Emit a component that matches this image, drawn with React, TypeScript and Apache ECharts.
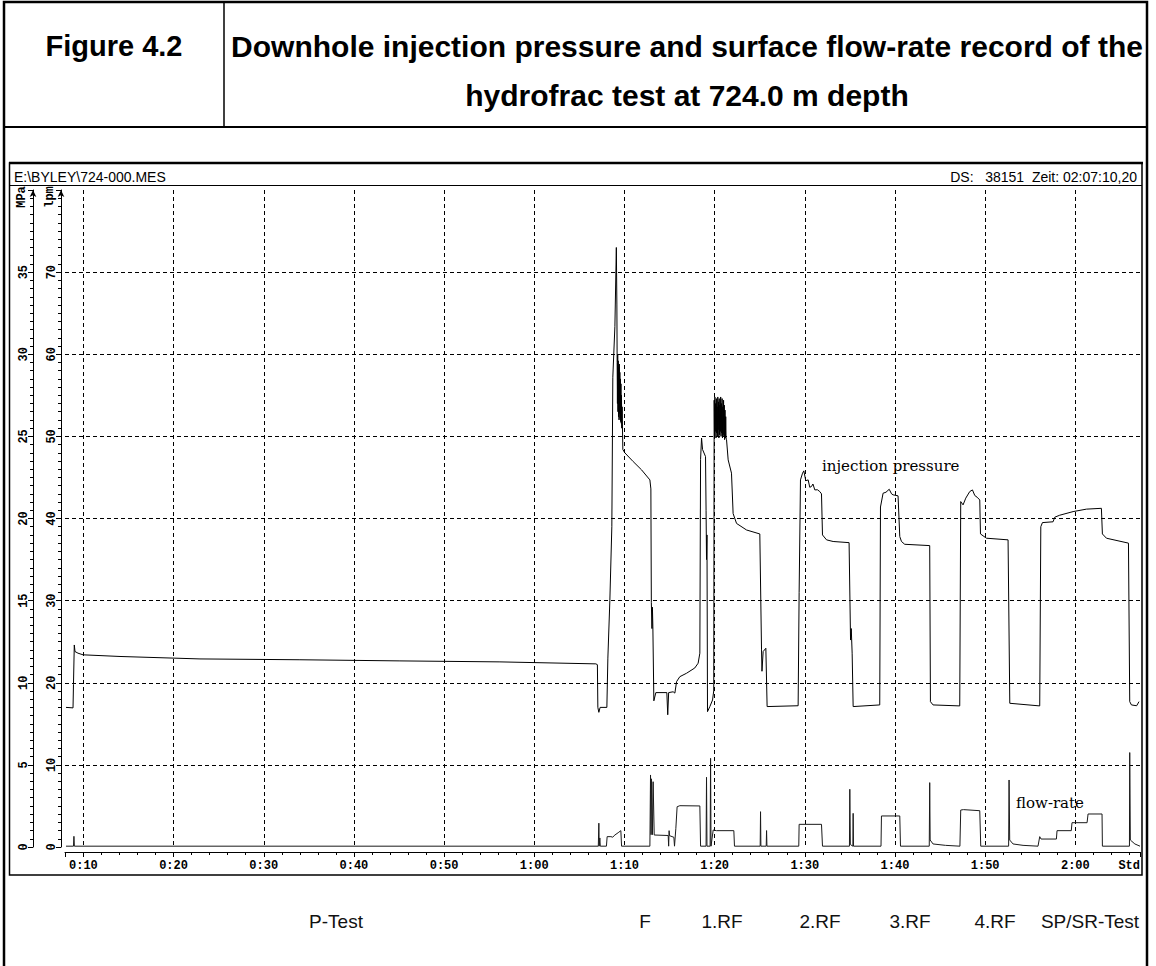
import { useEffect, useRef } from 'react';
import * as echarts from 'echarts';

const W = 1156;
const H = 966;

// Record window in minutes (end of record: Zeit 02:07:10)
const X_MIN = 7.96;
const X_MAX = 127.17;

// Downhole injection pressure [MPa] against time [min]
const pressureMin = [
  8.07, 8.85, 8.9, 8.99, 9.07, 9.4, 9.96, 14.06, 22.93, 34.01, 45.1, 56.19, 66.83, 67.0,
  67.05, 67.16, 67.3, 68.05, 68.16, 68.38, 68.6, 68.71, 68.94, 69.1,
  69.16, 69.19, 69.22, 69.25, 69.28, 69.31, 69.34, 69.37, 69.4, 69.43, 69.46, 69.49, 69.52,
  69.55, 69.58, 69.61, 69.64, 69.67, 69.7, 69.74,
  69.82, 70.04, 70.96, 71.9, 72.82, 72.93, 72.98, 73.05,
  73.1, 73.15, 73.26, 73.48, 74.7, 74.8, 74.9, 75.4, 75.59, 75.78, 76.14, 76.89, 77.8,
  78.17, 78.36, 78.44, 78.55, 78.66, 78.99, 79.05, 79.1, 79.15, 79.21, 79.47, 79.77, 79.9,
  79.95, 79.99, 80.03, 80.07, 80.11, 80.15, 80.19, 80.23, 80.27, 80.31, 80.35, 80.39, 80.43,
  80.47, 80.51, 80.55, 80.59, 80.63, 80.67, 80.71, 80.75, 80.79, 80.83, 80.87, 80.91, 80.95,
  80.99, 81.03, 81.07, 81.11, 81.15, 81.19, 81.23, 81.27,
  81.32, 81.5, 81.87, 82.05, 82.43, 83.54, 85.01, 85.2, 85.25, 85.38, 85.68, 85.82, 89.26,
  89.37, 89.52, 89.75, 89.89, 90.11, 90.37, 90.55, 90.74, 90.9, 91.11, 91.4, 91.66, 91.85,
  91.96, 92.41, 93.14, 94.91, 95.07, 95.15, 95.25, 95.36, 98.31, 98.39, 98.68, 99.0, 99.36,
  99.62, 99.79, 100.34, 100.53, 100.72, 101.08, 103.85, 103.93, 104.22, 107.18, 107.29,
  107.55, 107.85, 108.29, 108.59, 108.85, 109.1, 109.4, 109.48, 110.14, 112.54, 112.73,
  116.05, 116.17, 116.35, 117.53, 117.72, 118.27, 119.75, 121.23, 122.89, 123.0, 123.45,
  125.89, 126.03, 126.22, 126.8, 127.06,
];
const pressureMPa = [
  8.5, 8.47, 9.9, 12.3, 11.9, 11.8, 11.7, 11.6, 11.45, 11.4, 11.33, 11.27, 11.15, 11.1,
  8.5, 8.2, 8.5, 8.5, 11.5, 15.0, 19.5, 28.6, 31.7, 36.5,
  33.0, 29.5, 27.0, 30.0, 26.5, 29.6, 26.2, 29.2, 26.0, 29.4, 26.4, 28.9, 26.1,
  28.5, 25.9, 28.2, 25.8, 27.5, 25.5, 26.8,
  24.2, 24.0, 23.47, 22.96, 22.35, 21.8, 14.9, 13.3,
  14.6, 13.4, 8.9, 9.4, 9.4, 8.05, 9.4, 9.45, 9.37, 10.07, 10.37, 10.58, 10.9,
  11.19, 11.8, 23.6, 24.9, 24.2, 23.77, 20.5, 17.5, 19.0, 8.24, 8.55, 8.95, 9.5,
  27.2, 25.0, 27.4, 25.3, 27.0, 24.9, 27.3, 25.2, 26.8, 25.0, 27.4, 25.4, 27.1,
  24.9, 27.3, 25.1, 26.9, 25.3, 27.4, 25.0, 27.0, 25.2, 27.3, 24.9, 26.8, 25.1,
  27.2, 25.0, 26.9, 24.8, 26.6, 24.9, 26.2, 24.9,
  24.8, 23.57, 22.76, 20.3, 19.7, 19.3, 19.06, 12.0, 10.7, 11.9, 12.1, 8.55, 8.6,
  15.5, 22.35, 22.76, 22.9, 22.3, 22.35, 21.9, 21.95, 22.1, 21.74, 21.75, 21.64, 21.5,
  19.0, 18.7, 18.6, 18.53, 12.6, 13.3, 11.8, 8.55, 8.65, 20.7, 21.54, 21.6, 21.78,
  21.5, 21.44, 21.38, 18.9, 18.6, 18.43, 18.35, 8.85, 8.65, 8.59, 21.03,
  20.83, 21.24, 21.64, 21.74, 21.4, 21.3, 21.13, 19.06, 18.8, 18.7, 8.75,
  8.59, 19.5, 19.75, 19.8, 20.08, 20.2, 20.42, 20.57, 20.62, 19.06, 18.8,
  18.5, 8.85, 8.65, 8.6, 8.85,
];

// Surface flow rate [l/min] against time [min]
const flowMin = [
  8.07, 8.9, 8.95, 9.0, 67.1, 67.16, 67.2, 67.27, 67.32, 68.0, 68.08, 68.5, 68.7, 68.94,
  69.3, 69.6, 69.68, 72.82, 72.89, 72.95, 73.0, 73.1, 73.18, 73.3, 74.85, 74.9, 74.95,
  75.0, 75.48, 75.55, 75.7, 75.84, 76.14, 78.36, 78.44, 79.05, 79.1, 79.15, 79.5, 79.55,
  79.6, 79.84, 80.2, 82.13, 82.2, 85.05, 85.09, 85.13, 85.72, 85.76, 85.8, 89.33, 89.37,
  91.85, 91.96, 94.95, 94.99, 95.05, 95.33, 95.36, 95.4, 98.45, 98.5, 100.53, 100.61,
  103.8, 103.85, 103.9, 104.22, 105.6, 107.2, 107.29, 107.6, 109.4, 109.51, 112.6, 112.65,
  112.72, 113.09, 114.2, 115.86, 116.05, 116.2, 117.9, 117.97, 119.55, 119.63, 121.3,
  121.41, 122.96, 123.0, 126.0, 126.03, 126.1, 126.6, 127.17,
];
const flowLpm = [
  0.1, 0.1, 1.3, 0.1, 0.1, 2.9, 0.1, 1.1, 0.1, 0.1, 1.26, 1.26, 1.2, 1.46,
  1.74, 1.99, 0.1, 0.1, 8.77, 1.5, 8.3, 1.5, 7.95, 1.46, 1.4, 0.1, 1.99,
  1.38, 1.18, 0.1, 2.27, 4.9, 5.03, 5.0, 0.1, 0.1, 8.49, 0.1, 0.1, 10.8,
  0.1, 2.07, 1.99, 1.99, 0.1, 0.1, 4.3, 0.1, 0.1, 2.0, 0.1, 0.1, 2.76,
  2.76, 0.1, 0.1, 7.03, 0.3, 0.1, 4.1, 0.1, 0.1, 3.78, 3.78, 0.1,
  0.1, 7.84, 0.85, 0.37, 0.2, 0.1, 4.5, 4.55, 4.42, 0.1, 0.1, 8.16,
  0.85, 0.37, 0.2, 0.1, 1.26, 0.97, 0.97, 1.99, 1.99, 2.96, 2.96,
  4.02, 4.02, 0.1, 0.1, 11.5, 0.85, 0.37, 0.1,
];

const titleLine1 = 'Downhole injection pressure and surface flow-rate record of the';
const titleLine2 = 'hydrofrac test at 724.0 m depth';
const figureLabel = 'Figure 4.2';
const fileLabel = 'E:\\BYLEY\\724-000.MES';
const recordLabel = 'DS:   38151  Zeit: 02:07:10,20';
const phaseLabels = ['P-Test', 'F', '1.RF', '2.RF', '3.RF', '4.RF', 'SP/SR-Test'];
const seriesNotes = ['injection pressure', 'flow-rate'];

// Layout (pixels)
const phaseLabelX = [336, 645, 722, 820, 910, 995, 1090];
const GRID = { left: 65, top: 190, width: 1075, height: 657 };

const MONO = "'Liberation Mono', 'DejaVu Sans Mono', monospace";
const SANS = "'Liberation Sans', Arial, sans-serif";
const SERIF = "'DejaVu Serif', serif";

const zip = (xs: number[], ys: number[]) => xs.map((x, i) => [x, ys[i]]);

function timeLabel(v: number): string {
  if (v >= X_MAX - 1e-6) return 'Std';
  const r = Math.round(v);
  if (Math.abs(v - r) > 1e-6 || r % 10 !== 0) return '';
  return `${Math.floor(r / 60)}:${String(r % 60).padStart(2, '0')}`;
}

function text(x: number, y: number, t: string, o: any = {}) {
  const { rotation, ...style } = o;
  return {
    type: 'text',
    x,
    y,
    rotation: rotation || 0,
    silent: true,
    style: {
      text: t,
      fill: '#000',
      fontFamily: SANS,
      fontSize: 14,
      align: 'left',
      verticalAlign: 'middle',
      ...style,
    },
  };
}

function line(x1: number, y1: number, x2: number, y2: number, lw: number) {
  return {
    type: 'line',
    silent: true,
    shape: { x1, y1, x2, y2 },
    style: { stroke: '#000', lineWidth: lw },
  };
}

function buildOption(): any {
  const axisFont = { fontFamily: MONO, fontWeight: 'bold', fontSize: 12, color: '#000' };
  const dashed = { show: true, lineStyle: { color: '#000', width: 1, type: [4, 3] } };

  const yAxisCommon = (max: number, interval: number, offset: number, withSplit: boolean) => ({
    type: 'value',
    position: 'left',
    offset,
    min: 0,
    max,
    interval,
    axisLine: {
      show: true,
      onZero: false,
      symbol: ['none', 'arrow'],
      symbolSize: [5, 7],
      lineStyle: { color: '#000', width: 1 },
    },
    axisTick: { show: true, length: 5, lineStyle: { color: '#000', width: 1 } },
    minorTick: { show: true, splitNumber: 10, length: 3, lineStyle: { color: '#000', width: 1 } },
    axisLabel: { ...axisFont, rotate: 90, margin: 3, showMaxLabel: false },
    splitLine: withSplit ? { ...dashed, showMinLine: false, showMaxLine: false } : { show: false },
    minorSplitLine: { show: false },
  });

  return {
    animation: false,
    backgroundColor: '#fff',
    grid: { ...GRID, containLabel: false, outerBoundsMode: 'none' },
    xAxis: {
      type: 'value',
      position: 'bottom',
      offset: 5,
      min: X_MIN,
      max: X_MAX,
      splitNumber: 12,
      minInterval: 10,
      maxInterval: 10,
      axisLine: { show: true, onZero: false, lineStyle: { color: '#000', width: 1 } },
      axisTick: { show: true, length: 5, lineStyle: { color: '#000', width: 1 } },
      minorTick: { show: true, splitNumber: 5, length: 3, lineStyle: { color: '#000', width: 1 } },
      axisLabel: {
        ...axisFont,
        margin: 8,
        showMinLabel: true,
        showMaxLabel: true,
        alignMaxLabel: 'right',
        formatter: timeLabel,
      },
      splitLine: { ...dashed, showMinLine: false, showMaxLine: false },
    },
    yAxis: [yAxisCommon(40, 5, 32, true), yAxisCommon(80, 10, 4, false)],
    series: [
      {
        name: 'injection pressure',
        type: 'line',
        yAxisIndex: 0,
        data: zip(pressureMin, pressureMPa),
        showSymbol: false,
        symbol: 'none',
        silent: true,
        clip: true,
        lineStyle: { color: '#000', width: 1 },
      },
      {
        name: 'flow-rate',
        type: 'line',
        yAxisIndex: 1,
        data: zip(flowMin, flowLpm),
        showSymbol: false,
        symbol: 'none',
        silent: true,
        clip: true,
        lineStyle: { color: '#1a1a1a', width: 1 },
      },
    ],
    graphic: [
      // figure frame and title block
      {
        type: 'rect',
        silent: true,
        shape: { x: 4, y: 2, width: 1143, height: 1000 },
        style: { fill: 'none', stroke: '#000', lineWidth: 2.5 },
      },
      line(4, 127, 1147, 127, 2),
      line(224, 2, 224, 127, 1.5),
      text(114, 46, figureLabel, { fontSize: 29, fontWeight: 'bold', align: 'center' }),
      text(687, 46, titleLine1, { fontSize: 30, fontWeight: 'bold', align: 'center' }),
      text(687, 95, titleLine2, { fontSize: 30, fontWeight: 'bold', align: 'center' }),
      // recorder panel
      {
        type: 'rect',
        silent: true,
        shape: { x: 9.5, y: 163, width: 1132.5, height: 712 },
        style: { fill: 'none', stroke: '#000', lineWidth: 1.5 },
      },
      line(9, 163, 1143, 163, 2.5),
      line(10, 185.5, 1142, 185.5, 1),
      text(14, 177, fileLabel, { fontSize: 14 }),
      text(1137, 177, recordLabel, { fontSize: 14, align: 'right' }),
      // axis units
      text(22, 197, 'MPa', { fontFamily: MONO, fontWeight: 'bold', fontSize: 12, align: 'center', rotation: Math.PI / 2 }),
      text(50, 197, 'lpm', { fontFamily: MONO, fontWeight: 'bold', fontSize: 12, align: 'center', rotation: Math.PI / 2 }),
      // series notes
      text(822, 466, seriesNotes[0], { fontFamily: SERIF, fontSize: 15 }),
      text(1016, 803, seriesNotes[1], { fontFamily: SERIF, fontSize: 15 }),
      // test phases
      ...phaseLabels.map((p, i) =>
        text(phaseLabelX[i], 921, p, { fontSize: 19, align: 'center', fill: '#111' })
      ),
    ],
  };
}

export default function App() {
  const ref = useRef<HTMLDivElement>(null);
  useEffect(() => {
    const chart = echarts.init(ref.current!, undefined, { renderer: 'svg', width: W, height: H });
    chart.setOption(buildOption());
    return () => chart.dispose();
  }, []);
  return (
    <div
      ref={ref}
      style={{ position: 'fixed', left: 0, top: 0, width: W, height: H, background: '#fff' }}
    />
  );
}
